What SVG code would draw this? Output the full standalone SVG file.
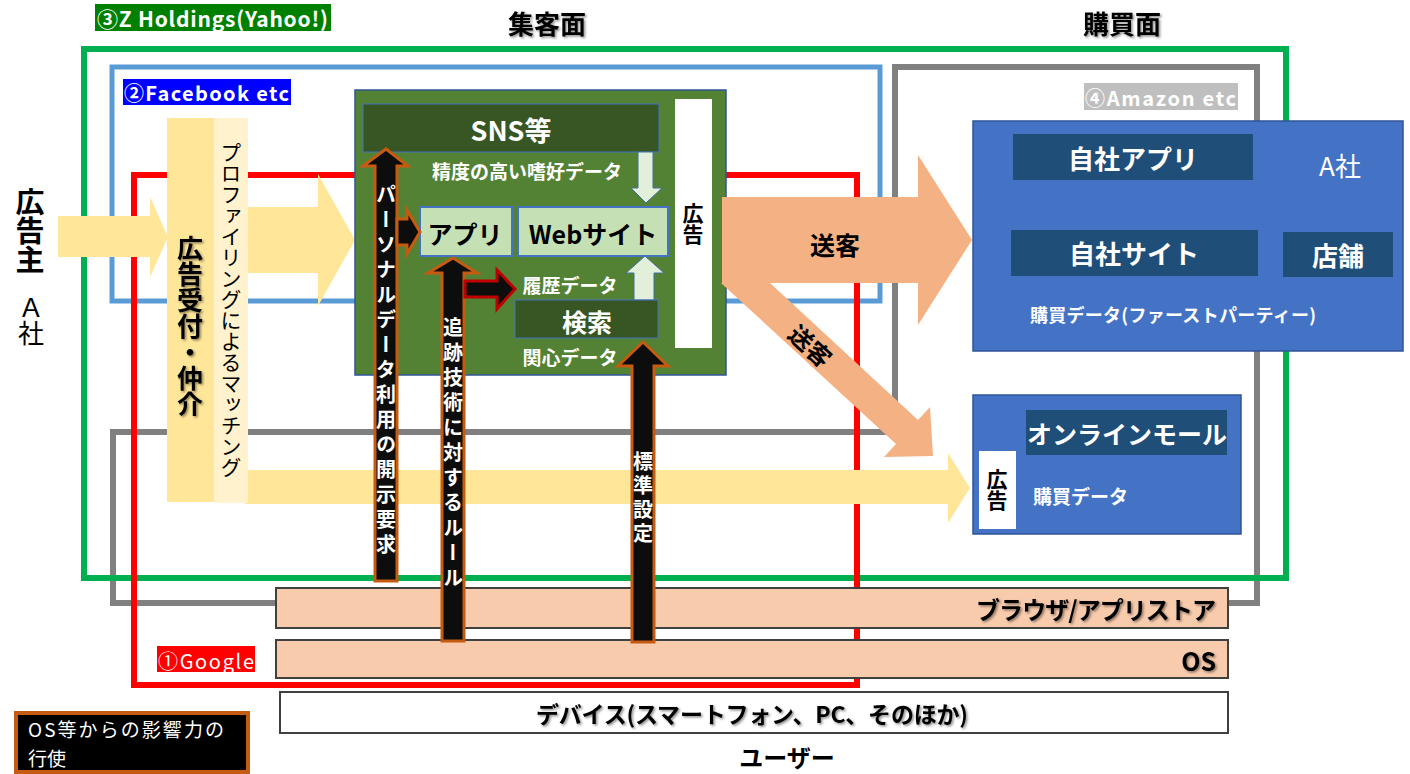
<svg xmlns="http://www.w3.org/2000/svg" width="1410" height="774" viewBox="0 0 1410 774">
<defs>
<style>
text{font-family:"Noto Sans CJK JP","Noto Sans",sans-serif;}
.b{font-weight:bold;}
.w{fill:#fff;}
.k{fill:#000;}
.c{dominant-baseline:central;}
.v{writing-mode:vertical-rl;text-anchor:middle;}
.m{text-anchor:middle;}
.e{text-anchor:end;}
.line{fill:none;}
.yel{fill:#FFE699;}
.sal{fill:#F4B183;}
.blk{fill:#0D0D0D;stroke:#C55A11;stroke-width:3;stroke-linejoin:miter;}
.lg{fill:#E2EFDA;stroke:#41719C;stroke-width:1;}
.bar{fill:#F8CBAD;stroke:#404040;stroke-width:2;}
.dkb{fill:#1F4E79;}
.blu{fill:#4472C4;stroke:#2F5597;stroke-width:1.5;}
</style>
<filter id="sh" x="-20%" y="-20%" width="140%" height="140%">
<feDropShadow dx="1.5" dy="1.5" stdDeviation="1" flood-color="#000" flood-opacity="0.45"/>
</filter>
</defs>
<rect width="1410" height="774" fill="#fff"/>

<g id="frames">
<polygon class="line" points="895,67 1257,67 1257,603 113,603 113,432 895,432" stroke="#808080" stroke-width="6"/>
<rect class="line" x="84" y="49" width="1202" height="529" stroke="#00B050" stroke-width="6"/>
<rect class="line" x="112" y="67" width="768" height="234" stroke="#5B9BD5" stroke-width="5"/>
<rect class="line" x="134" y="175" width="723" height="510" stroke="#FF0000" stroke-width="6"/>
</g>

<g id="titles">
<text class="b c m" x="547" y="22" font-size="26" filter="url(#sh)">集客面</text>
<text class="b c m" x="1122" y="22" font-size="26" filter="url(#sh)">購買面</text>
<text class="b c m" x="787" y="756" font-size="24">ユーザー</text>
</g>

<g id="advertiser">
<text class="b v" x="30" y="231" font-size="29">広告主</text>
<text class="v" x="31" y="320" font-size="26">Ａ社</text>
</g>

<g id="connectors">
<polygon class="yel" points="58,216 150,216 150,197 168,237 150,277 150,257 58,257"/>
<polygon class="yel" points="245,207 318,207 318,174 355,240 318,306 318,273 245,273"/>
<polygon class="yel" points="245,470 948,470 948,453 970,488 948,523 948,504 245,504"/>
</g>

<g id="broker">
<rect x="167" y="118" width="48" height="384" fill="#FFE699"/>
<rect x="214" y="118" width="34" height="385" fill="#FFF2CC"/>
<text class="b v" x="190" y="326" font-size="26" filter="url(#sh)">広告受付・仲介</text>
<text class="v" x="231" y="310" font-size="21">プロファイリングによるマッチング</text>
</g>

<g id="platform">
<rect x="355" y="90" width="371" height="285" fill="#548235" stroke="#2F5597" stroke-width="1.5"/>
<rect x="363" y="104" width="296" height="48" fill="#375623" stroke="#4472C4" stroke-width="1"/>
<text class="b w c m" x="511" y="129" font-size="27">SNS等</text>
<text class="b w c m" x="527" y="170" font-size="19">精度の高い嗜好データ</text>
<polygon class="lg" points="638,152 653,152 653,188 662,188 646,203 631,188 638,188"/>
<rect x="420" y="207" width="92" height="49" fill="#C5E0B4" stroke="#4472C4" stroke-width="2"/>
<text class="b c m" x="465" y="233" font-size="25">アプリ</text>
<rect x="518" y="207" width="150" height="49" fill="#C5E0B4" stroke="#4472C4" stroke-width="2"/>
<text class="b c m" x="593" y="233" font-size="25">Webサイト</text>
<polygon class="lg" points="634,300 654,300 654,273 664,273 645,256 626,273 634,273"/>
<text class="b w c m" x="570" y="284" font-size="19">履歴データ</text>
<rect x="515" y="300" width="143" height="38" fill="#375623" stroke="#4472C4" stroke-width="1"/>
<text class="b w c m" x="587" y="321" font-size="25">検索</text>
<text class="b w c m" x="570" y="356" font-size="19">関心データ</text>
<rect x="675" y="99" width="37" height="249" fill="#fff"/>
<text class="b v" x="693" y="224" font-size="21">広告</text>
</g>

<g id="send">
<polygon class="sal" points="721,283 770,283 918,420 930,407 933,456 884,457 896,444"/>
<polygon class="sal" points="722,197 918,197 918,155 972,240 918,325 918,283 722,283"/>
<text class="b c m" x="835" y="244" font-size="25">送客</text>
<text class="b c m" x="0" y="0" font-size="24" transform="translate(811,345) rotate(42.7)">送客</text>
</g>

<g id="company">
<rect class="blu" x="973" y="121" width="430" height="230"/>
<rect class="dkb" x="1013" y="134" width="240" height="46"/>
<text class="b w c m" x="1133" y="157" font-size="26">自社アプリ</text>
<text class="w c m" x="1340" y="164" font-size="26">A社</text>
<rect class="dkb" x="1011" y="230" width="247" height="46"/>
<text class="b w c m" x="1134" y="252" font-size="26">自社サイト</text>
<rect class="dkb" x="1283" y="232" width="110" height="45"/>
<text class="b w c m" x="1338" y="254" font-size="26">店舗</text>
<text class="b w c" x="1030" y="314" font-size="18" textLength="286">購買データ(ファーストパーティー)</text>
</g>

<g id="mall">
<rect class="blu" x="973" y="395" width="268" height="139"/>
<rect class="dkb" x="1026" y="410" width="201" height="45"/>
<text class="b w c m" x="1127" y="433" font-size="25">オンラインモール</text>
<rect x="979" y="451" width="37" height="78" fill="#fff"/>
<text class="b v" x="997" y="490" font-size="21">広告</text>
<text class="b w c" x="1033" y="495" font-size="19">購買データ</text>
</g>

<g id="layers">
<rect class="bar" x="276" y="588" width="952" height="40"/>
<text class="b c e" x="1216" y="608" font-size="24" textLength="240" filter="url(#sh)">ブラウザ/アプリストア</text>
<rect class="bar" x="276" y="640" width="952" height="38"/>
<text class="b c e" x="1216" y="660" font-size="25" filter="url(#sh)">OS</text>
<rect x="280" y="692" width="948" height="41" fill="#fff" stroke="#404040" stroke-width="2"/>
<text class="b c" x="536" y="713" font-size="23" textLength="432" filter="url(#sh)">デバイス(スマートフォン、PC、そのほか)</text>
</g>

<g id="influence">
<polygon class="blk" points="375,581 375,166 363,166 386,149 408,166 397,166 397,581"/>
<polygon class="blk" points="397,219 407,219 407,210 420,232 407,254 407,245 397,245"/>
<text class="b w v" x="386" y="372" font-size="20" letter-spacing="5">パーソナルデータ利用の開示要求</text>
<polygon class="blk" points="442,641 442,273 428,273 453,258 477,273 464,273 464,641"/>
<polygon class="blk" style="stroke:#C00000" points="465,281 497,281 497,270 515,289 497,309 497,297 465,297"/>
<text class="b w v" x="453" y="455" font-size="20" letter-spacing="5">追跡技術に対するルール</text>
<polygon class="blk" points="632,642 632,366 618,366 643,342 668,366 654,366 654,642"/>
<text class="b w v" x="643" y="499" font-size="20" letter-spacing="4">標準設定</text>
</g>

<g id="labels">
<rect x="95" y="4" width="236" height="27" fill="#008000"/>
<text class="b w c" x="97" y="18" font-size="21" textLength="231">③Z Holdings(Yahoo!)</text>
<rect x="123" y="79" width="168" height="26" fill="#0000FF"/>
<text class="b w c" x="124" y="92" font-size="20" textLength="165">②Facebook etc</text>
<rect x="1084" y="83" width="154" height="27" fill="#BFBFBF"/>
<text class="b w c" x="1085" y="97" font-size="20" textLength="151">④Amazon etc</text>
<rect x="157" y="646" width="98" height="26" fill="#FF0000"/>
<text class="w c" x="158" y="660" font-size="20" textLength="96">①Google</text>
</g>

<g id="legend">
<rect x="16" y="713" width="232" height="59" fill="#000" stroke="#C55A11" stroke-width="4"/>
<text class="w c" x="28" y="728" font-size="19" textLength="196">OS等からの影響力の</text>
<text class="w c" x="28" y="757" font-size="19">行使</text>
</g>
</svg>
